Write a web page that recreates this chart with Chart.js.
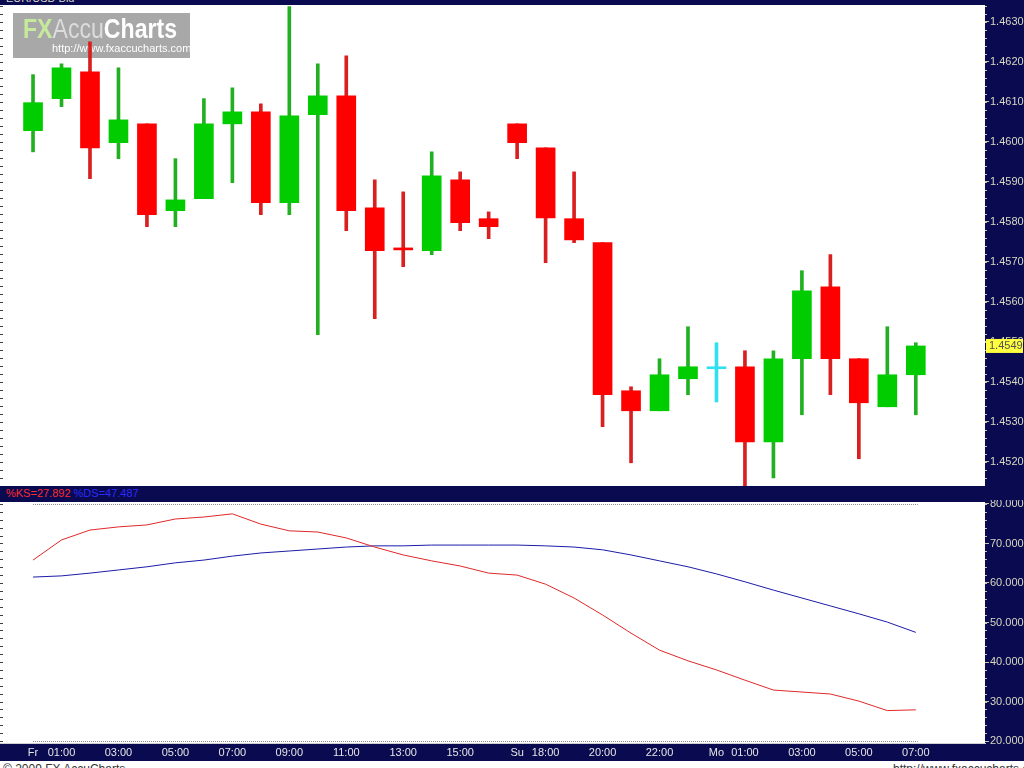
<!DOCTYPE html>
<html lang="en">
<head>
<meta charset="UTF-8">
<title>EUR/USD Bid</title>
<script src="https://cdn.jsdelivr.net/npm/chart.js"></script>
<style>
    body {
        margin: 0;
        width: 1024px;
        height: 768px;
        overflow: hidden;
        position: relative;
        background: #0a0a50;
        font-family: "Liberation Sans", Arial, sans-serif;
    }
    #title {
        position: absolute;
        left: 6px;
        top: -8px;
        font-size: 11px;
        color: #d8d8c8;
    }
    #priceBox {
        position: absolute;
        left: 0;
        top: 5px;
        width: 1024px;
        height: 481px;
    }
    #legendBar {
        position: absolute;
        left: 0;
        top: 487px;
        width: 1024px;
        height: 13px;
        font-size: 11px;
        line-height: 13px;
        padding-left: 6px;
        box-sizing: border-box;
    }
    #legendBar .k { color: #ff2a2a; }
    #legendBar .d { color: #2a2aff; }
    #oscBox {
        position: absolute;
        left: 0;
        top: 500px;
        width: 1024px;
        height: 261px;
    }
    #footer {
        position: absolute;
        left: 0;
        top: 761px;
        width: 1024px;
        height: 7px;
        background: #ffffff;
        overflow: hidden;
        font-size: 12px;
        line-height: 16px;
        color: #333333;
    }
    #footer .left { position: absolute; left: 3px; top: 0; }
    #footer .right { position: absolute; left: 893px; top: 0; }
</style>
</head>
<body>
<div id="title">EUR/USD Bid</div>
<div id="priceBox"><canvas id="priceChart"></canvas></div>
<div id="legendBar"><span class="k">%KS=27.892</span> <span class="d">%DS=47.487</span></div>
<div id="oscBox"><canvas id="oscChart"></canvas></div>
<div id="footer"><span class="left">© 2009 FX AccuCharts</span><span class="right">http://www.fxaccucharts.com</span></div>
<script>
    // hourly candles: Fri 00:00-16:00, Sun 17:00-23:00, Mon 00:00-07:00
    const timeLabels = ['Fr', '01:00', '02:00', '03:00', '04:00', '05:00', '06:00', '07:00', '08:00',
        '09:00', '10:00', '11:00', '12:00', '13:00', '14:00', '15:00', '16:00',
        'Su', '18:00', '19:00', '20:00', '21:00', '22:00', '23:00',
        'Mo', '01:00', '02:00', '03:00', '04:00', '05:00', '06:00', '07:00'];
    const labelIdx = [0, 1, 3, 5, 7, 9, 11, 13, 15, 17, 18, 20, 22, 24, 25, 27, 29, 31];

    const opens = [1.46028, 1.46108, 1.46175, 1.45998, 1.46045, 1.45828, 1.45858, 1.46045, 1.46075, 1.45848,
        1.46068, 1.46115, 1.45835, 1.45733, 1.45728, 1.45905, 1.45808, 1.46045, 1.45985, 1.45808,
        1.45748, 1.45378, 1.45328, 1.45408, 1.45433, 1.45438, 1.45250, 1.45458, 1.45638, 1.45458,
        1.45338, 1.45418];
    const closes = [1.46098, 1.46185, 1.45985, 1.46055, 1.45818, 1.45855, 1.46045, 1.46075, 1.45848, 1.46065,
        1.46115, 1.45828, 1.45728, 1.45730, 1.45915, 1.45798, 1.45788, 1.45998, 1.45810, 1.45755,
        1.45368, 1.45328, 1.45418, 1.45438, 1.45433, 1.45250, 1.45458, 1.45628, 1.45458, 1.45348,
        1.45418, 1.45490];
    const highs = [1.46168, 1.46195, 1.46250, 1.46185, 1.46045, 1.45958, 1.46108, 1.46135, 1.46095, 1.46338,
        1.46195, 1.46215, 1.45905, 1.45875, 1.45975, 1.45925, 1.45825, 1.46045, 1.45985, 1.45925,
        1.45748, 1.45388, 1.45458, 1.45538, 1.45498, 1.45478, 1.45478, 1.45678, 1.45718, 1.45458,
        1.45538, 1.45498];
    const lows = [1.45975, 1.46088, 1.45908, 1.45958, 1.45788, 1.45788, 1.45858, 1.45898, 1.45818, 1.45818,
        1.45518, 1.45778, 1.45558, 1.45688, 1.45718, 1.45778, 1.45758, 1.45958, 1.45698, 1.45748,
        1.45288, 1.45198, 1.45328, 1.45368, 1.45350, 1.45138, 1.45160, 1.45318, 1.45368, 1.45208,
        1.45338, 1.45318];

    const priceTicks = [1.4520, 1.4530, 1.4540, 1.4550, 1.4560, 1.4570, 1.4580, 1.4590, 1.4600, 1.4610, 1.4620, 1.4630];
    const lastPrice = 1.4549;

    // slow stochastic
    const kValues = [65.8, 70.9, 73.4, 74.2, 74.7, 76.2, 76.7, 77.5, 74.9, 73.2,
        72.9, 71.4, 69.1, 67.1, 65.6, 64.3, 62.5, 62.0, 59.7, 56.2,
        51.9, 47.3, 43.0, 40.3, 38.0, 35.4, 32.9, 32.4, 31.9, 30.1,
        27.7, 27.9];
    const dValues = [61.5, 61.8, 62.5, 63.3, 64.1, 65.1, 65.8, 66.8, 67.6, 68.1,
        68.6, 69.1, 69.4, 69.4, 69.6, 69.6, 69.6, 69.6, 69.4, 69.1,
        68.4, 67.1, 65.6, 64.1, 62.3, 60.3, 58.2, 56.2, 54.2, 52.2,
        50.1, 47.5];
    const oscTicks = [20, 30, 40, 50, 60, 70, 80];
    const oscLevels = [80, 20];

    const NAVY = '#0a0a50';
    const AXIS_TXT = '#d8d8c0';
    const X_MIN = -1.16, X_MAX = 33.43;

    function bodyColor(i) {
        if (opens[i] === closes[i]) return '#30e0f0';
        return closes[i] > opens[i] ? '#00cc00' : '#ff0000';
    }
    function wickColor(i) {
        if (opens[i] === closes[i]) return '#30e0f0';
        return closes[i] > opens[i] ? '#22b022' : '#d82020';
    }

    // keep the plot area flush with the canvas edges
    function noPad(s) {
        s.paddingTop = 0;
        s.paddingBottom = 0;
        s.paddingLeft = 0;
        s.paddingRight = 0;
    }

    const whiteArea = {
        id: 'whiteArea',
        beforeDraw(chart) {
            const c = chart.ctx, a = chart.chartArea;
            c.save();
            c.fillStyle = NAVY;
            c.fillRect(0, 0, chart.width, chart.height);
            c.fillStyle = '#ffffff';
            c.fillRect(a.left, a.top, a.right - a.left, a.bottom - a.top);
            c.restore();
        }
    };

    function minorTicks(chart, step) {
        const c = chart.ctx, a = chart.chartArea, y = chart.scales.y;
        c.save();
        c.lineWidth = 1;
        for (let v = Math.ceil(y.min / step) * step; v <= y.max; v += step) {
            const py = Math.round(y.getPixelForValue(v)) + 0.5;
            c.strokeStyle = '#c8c8a8';
            c.beginPath(); c.moveTo(a.right, py); c.lineTo(a.right + 2, py); c.stroke();
            c.strokeStyle = '#404040';
            c.beginPath(); c.moveTo(a.left, py); c.lineTo(a.left + 3, py); c.stroke();
        }
        c.restore();
    }

    const logo = {
        id: 'logo',
        beforeDatasetsDraw(chart) {
            const c = chart.ctx;
            c.save();
            c.fillStyle = '#a8a8a8';
            c.fillRect(13, 8, 177, 45);
            const parts = [['FX', 'bold 27px "Liberation Sans", Arial', '#c6ea9c'],
                ['Accu', '27px "Liberation Sans", Arial', '#dcdcdc'],
                ['Charts', 'bold 27px "Liberation Sans", Arial', '#ffffff']];
            let total = 0;
            parts.forEach(p => { c.font = p[1]; total += c.measureText(p[0]).width; });
            const sx = 154 / total;
            c.translate(23, 33);
            c.scale(sx, 1);
            let x = 0;
            parts.forEach(p => {
                c.font = p[1];
                c.fillStyle = p[2];
                c.fillText(p[0], x, 0);
                x += c.measureText(p[0]).width;
            });
            c.restore();
            c.save();
            c.font = '11px "Liberation Sans", Arial';
            c.fillStyle = '#ffffff';
            c.fillText('http://www.fxaccucharts.com/', 52, 47);
            c.restore();
        }
    };

    const priceExtras = {
        id: 'priceExtras',
        afterDraw(chart) {
            minorTicks(chart, 0.0002);
            const c = chart.ctx, a = chart.chartArea;
            const py = chart.scales.y.getPixelForValue(lastPrice);
            c.save();
            c.fillStyle = '#ffff40';
            c.fillRect(a.right + 1, py - 7, 37, 14);
            c.fillStyle = '#505050';
            c.font = '11px "Liberation Sans", Arial';
            c.textBaseline = 'middle';
            c.fillText(lastPrice.toFixed(4), a.right + 4, py + 0.5);
            c.restore();
        }
    };

    const oscExtras = {
        id: 'oscExtras',
        beforeDatasetsDraw(chart) {
            const c = chart.ctx, xs = chart.scales.x, ys = chart.scales.y;
            c.save();
            c.strokeStyle = '#8a8a8a';
            c.lineWidth = 1;
            c.setLineDash([1, 1]);
            oscLevels.forEach(v => {
                const py = Math.round(ys.getPixelForValue(v)) + 0.5;
                c.beginPath();
                c.moveTo(xs.getPixelForValue(0), py);
                c.lineTo(xs.getPixelForValue(31) + 2, py);
                c.stroke();
            });
            c.restore();
        },
        afterDraw(chart) {
            minorTicks(chart, 2);
        }
    };

    new Chart(document.getElementById('priceChart'), {
        type: 'bar',
        data: {
            datasets: [
                {
                    label: 'body',
                    data: opens.map((o, i) => ({x: i, y: [o, closes[i]]})),
                    backgroundColor: opens.map((o, i) => bodyColor(i)),
                    barThickness: 19,
                    minBarLength: 2,
                    grouped: false
                },
                {
                    label: 'wick',
                    data: lows.map((l, i) => ({x: i, y: [l, highs[i]]})),
                    backgroundColor: lows.map((l, i) => wickColor(i)),
                    barThickness: 3,
                    grouped: false
                }
            ]
        },
        options: {
            responsive: true,
            maintainAspectRatio: false,
            animation: false,
            layout: {padding: 0},
            plugins: {legend: {display: false}, tooltip: {enabled: false}},
            scales: {
                x: {type: 'linear', min: X_MIN, max: X_MAX, offset: false, display: false},
                y: {
                    position: 'right',
                    min: 1.45140,
                    max: 1.46342,
                    afterBuildTicks: s => { s.ticks = priceTicks.map(v => ({value: v})); },
                    afterFit: s => { s.width = 39; noPad(s); },
                    grid: {drawOnChartArea: false, color: '#c8c8a8', tickLength: 4},
                    border: {display: false},
                    ticks: {color: AXIS_TXT, font: {size: 11, family: '"Liberation Sans", Arial'}, padding: 1,
                        callback: v => v.toFixed(4)}
                }
            }
        },
        plugins: [whiteArea, logo, priceExtras]
    });

    new Chart(document.getElementById('oscChart'), {
        type: 'line',
        data: {
            datasets: [
                {
                    label: '%K',
                    data: kValues.map((v, i) => ({x: i, y: v})),
                    borderColor: '#e02828',
                    borderWidth: 1,
                    pointRadius: 0,
                    tension: 0
                },
                {
                    label: '%D',
                    data: dValues.map((v, i) => ({x: i, y: v})),
                    borderColor: '#1c1ca8',
                    borderWidth: 1,
                    pointRadius: 0,
                    tension: 0
                }
            ]
        },
        options: {
            responsive: true,
            maintainAspectRatio: false,
            animation: false,
            layout: {padding: {top: 2}},
            plugins: {legend: {display: false}, tooltip: {enabled: false}},
            scales: {
                x: {
                    type: 'linear', min: X_MIN, max: X_MAX, offset: false,
                    afterBuildTicks: s => { s.ticks = labelIdx.map(v => ({value: v})); },
                    afterFit: s => { s.height = 18; noPad(s); },
                    grid: {display: false, drawTicks: false},
                    border: {display: true, color: '#d0d0d0'},
                    ticks: {color: '#e4e4e4', font: {size: 11, family: '"Liberation Sans", Arial'}, padding: 3,
                        maxRotation: 0, autoSkip: false, callback: v => timeLabels[v]}
                },
                y: {
                    position: 'right',
                    min: 19.5,
                    max: 80.5,
                    afterBuildTicks: s => { s.ticks = oscTicks.map(v => ({value: v})); },
                    afterFit: s => { s.width = 39; noPad(s); },
                    grid: {drawOnChartArea: false, color: '#c8c8a8', tickLength: 4},
                    border: {display: false},
                    ticks: {color: AXIS_TXT, font: {size: 11, family: '"Liberation Sans", Arial'}, padding: 1,
                        callback: v => v.toFixed(3)}
                }
            }
        },
        plugins: [whiteArea, oscExtras]
    });
</script>
</body>
</html>
